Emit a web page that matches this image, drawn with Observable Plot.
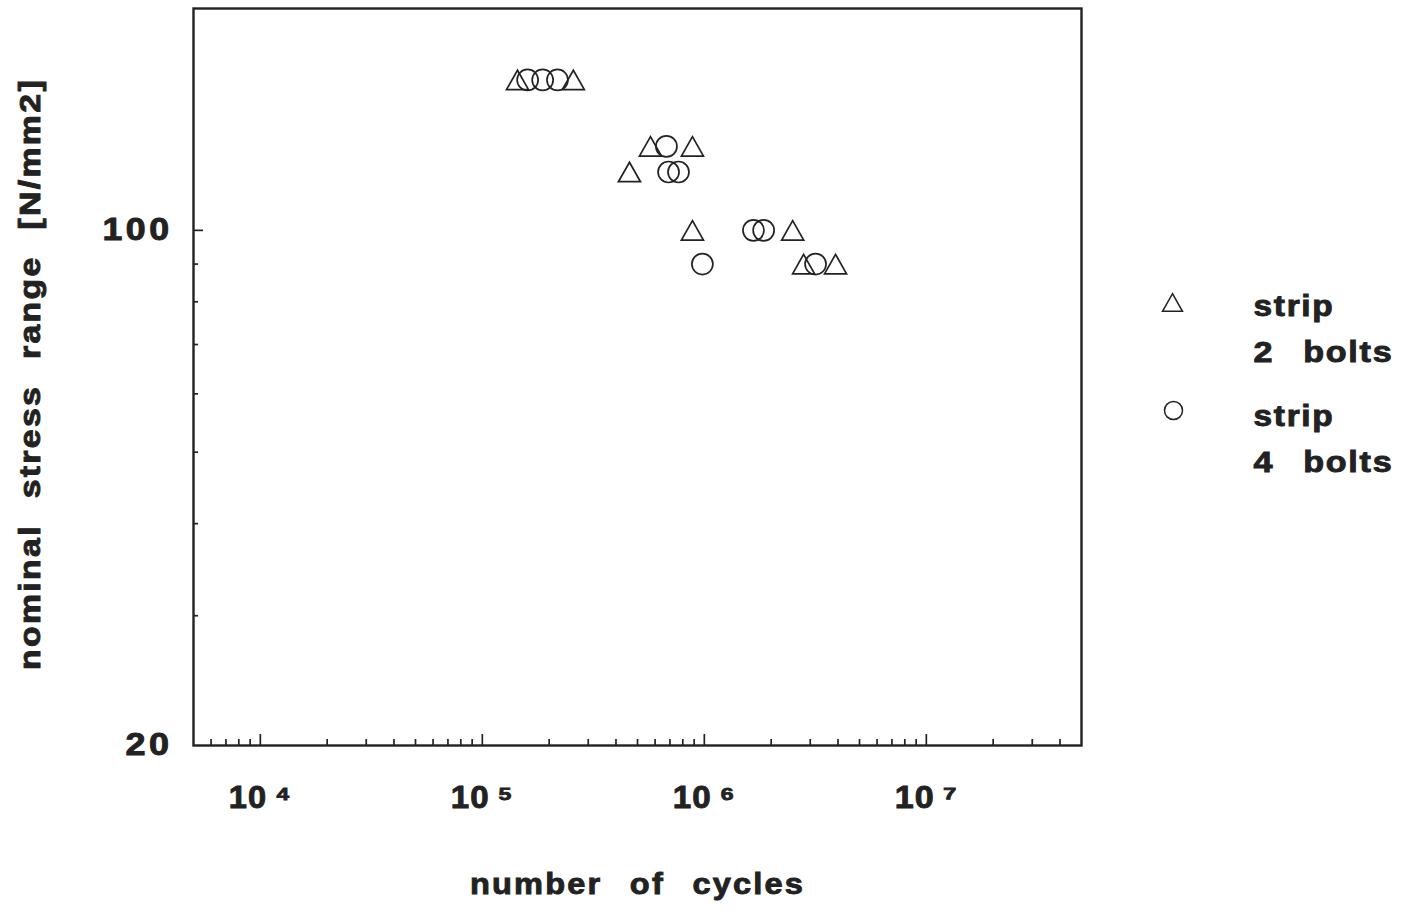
<!DOCTYPE html>
<html>
<head>
<meta charset="utf-8">
<script src="https://cdn.jsdelivr.net/npm/d3@7"></script>
<script src="https://cdn.jsdelivr.net/npm/@observablehq/plot@0.6"></script>
<style>
  html, body { margin: 0; padding: 0; background: #ffffff; }
  #chart { width: 1402px; height: 917px; }
</style>
</head>
<body>
<div id="chart"></div>
<script>
// ---- data ----
const twoBoltsCycles = [1.44e5, 2.57e5, 5.72e5, 8.84e5, 4.60e5, 8.84e5, 2.50e6, 2.80e6, 3.90e6];
const twoBoltsStress = [160, 160, 130, 130, 120, 100, 100, 90, 90];
const fourBoltsCycles = [1.60e5, 1.87e5, 2.18e5, 6.75e5, 6.90e5, 7.65e5, 1.665e6, 1.85e6, 9.8e5, 3.17e6];
const fourBoltsStress = [160, 160, 160, 130, 120, 120, 100, 100, 90, 90];

const xMajorTicks = [1e4, 1e5, 1e6, 1e7];
const xTickLabels = ["10\u2009\u2074", "10\u2009\u2075", "10\u2009\u2076", "10\u2009\u2077"];
const xMinorTicks = [6e3, 7e3, 8e3, 9e3,
  2e4, 3e4, 4e4, 5e4, 6e4, 7e4, 8e4, 9e4,
  2e5, 3e5, 4e5, 5e5, 6e5, 7e5, 8e5, 9e5,
  2e6, 3e6, 4e6, 5e6, 6e6, 7e6, 8e6, 9e6,
  2e7, 3e7, 4e7];
const yMajorTicks = [100];
const yMinorTicks = [30, 40, 50, 60, 70, 80, 90];
const yTickLabels = [20, 100];

const xTitle = "number of cycles";
const yTitle = "nominal stress range [N/mm2]";
const legendTitle = "strip";
const legendSeries = ["2 bolts", "4 bolts"];

// ---- tables built from the arrays ----
const twoBolts = twoBoltsCycles.map((c, i) => ({cycles: c, stress: twoBoltsStress[i]}));
const fourBolts = fourBoltsCycles.map((c, i) => ({cycles: c, stress: fourBoltsStress[i]}));
const xLabelOf = new Map(xMajorTicks.map((t, i) => [t, xTickLabels[i]]));

// triangle centred on its bounding box
const triangle = {
  draw(context, size) {
    const r = Math.sqrt(size / Math.PI);
    const w = 2.1 * r, h = 1.85 * r;
    context.moveTo(0, -h / 2);
    context.lineTo(w / 2, h / 2);
    context.lineTo(-w / 2, h / 2);
    context.closePath();
  }
};

const ink = "#222222";
const font = "'Liberation Sans', Arial, Helvetica, sans-serif";
const legendText = (label, dy) => Plot.text([label], {frameAnchor: "top-right", dx: 172, dy, text: d => d,
  textAnchor: "start", lineAnchor: "middle", fontSize: 29, fontWeight: "bold", fill: ink});

const chart = Plot.plot({
  width: 1402,
  height: 917,
  marginLeft: 193,
  marginRight: 321,
  marginTop: 8,
  marginBottom: 172,
  x: {type: "log", domain: [5000, 5e7], label: null},
  y: {type: "log", domain: [20, 200], label: null},
  style: {fontFamily: font, color: ink, background: "#ffffff", overflow: "visible"},
  marks: [
    Plot.frame({stroke: ink, strokeWidth: 2.4}),
    // inward ticks
    Plot.axisX(xMinorTicks, {anchor: "bottom", tickSize: -6, strokeWidth: 1.7, fill: "none", label: null}),
    Plot.axisX(xMajorTicks, {anchor: "bottom", tickSize: -11, strokeWidth: 1.7, fill: "none", label: null}),
    Plot.axisY(yMinorTicks, {anchor: "left", tickSize: -5, strokeWidth: 1.7, fill: "none", label: null}),
    Plot.axisY(yMajorTicks, {anchor: "left", tickSize: -10, strokeWidth: 1.7, fill: "none", label: null}),
    // tick labels
    Plot.axisX(xMajorTicks, {anchor: "bottom", tickSize: 0, tickPadding: 40, fontSize: 32, fontWeight: "bold",
      tickFormat: d => xLabelOf.get(d), label: null}),
    Plot.axisY(yTickLabels, {anchor: "left", tickSize: 0, tickPadding: 21, fontSize: 31, fontWeight: "bold",
      tickFormat: d => String(d), label: null}),
    // axis titles
    Plot.text([xTitle], {frameAnchor: "bottom", dy: 148, text: d => d, fontSize: 30, fontWeight: "bold",
      textAnchor: "middle", fill: ink}),
    Plot.text([yTitle], {frameAnchor: "left", dx: -163, dy: -3, rotate: -90, text: d => d, fontSize: 29,
      textAnchor: "middle", fontWeight: "bold", fill: ink}),
    // data
    Plot.dot(twoBolts, {x: "cycles", y: "stress", symbol: triangle, r: 10.5, stroke: ink, strokeWidth: 1.7, fill: "none"}),
    Plot.dot(fourBolts, {x: "cycles", y: "stress", symbol: "circle", r: 10.5, stroke: ink, strokeWidth: 1.7, fill: "none"}),
    // legend (right margin)
    Plot.dot([legendSeries[0]], {frameAnchor: "top-right", dx: 91, dy: 294, symbol: triangle, r: 9.5,
      stroke: ink, strokeWidth: 1.5, fill: "none"}),
    Plot.dot([legendSeries[1]], {frameAnchor: "top-right", dx: 92, dy: 402, symbol: "circle", r: 9,
      stroke: ink, strokeWidth: 1.5, fill: "none"}),
    legendText(legendTitle, 298),
    legendText(legendSeries[0], 344),
    legendText(legendTitle, 408),
    legendText(legendSeries[1], 454)
  ]
});

// spacing / weight tweaks (the reference uses a wide, heavy, loosely set bold face)
const svg = d3.select(chart);
function fitText(test, length, letter, word) {
  svg.selectAll("text").filter(function () { return test(this.textContent); })
    .style("letter-spacing", letter || "0px")
    .style("word-spacing", word || "0px")
    .attr("textLength", length)
    .attr("lengthAdjust", "spacingAndGlyphs");
}
fitText(t => xTickLabels.includes(t), 63, "1px");
fitText(t => t === "100", 70, "3px");
fitText(t => t === "20", 47, "3px");
fitText(t => t === xTitle, 335, "2px", "15px");
fitText(t => t === yTitle, 592, "2px", "12px");
fitText(t => t === legendTitle, 81, "1.5px");
fitText(t => legendSeries.includes(t), 140, "1.5px", "15px");
svg.selectAll("text").style("stroke", ink).style("stroke-width", "0.9px").style("paint-order", "normal");

document.getElementById("chart").appendChild(chart);
</script>
</body>
</html>
